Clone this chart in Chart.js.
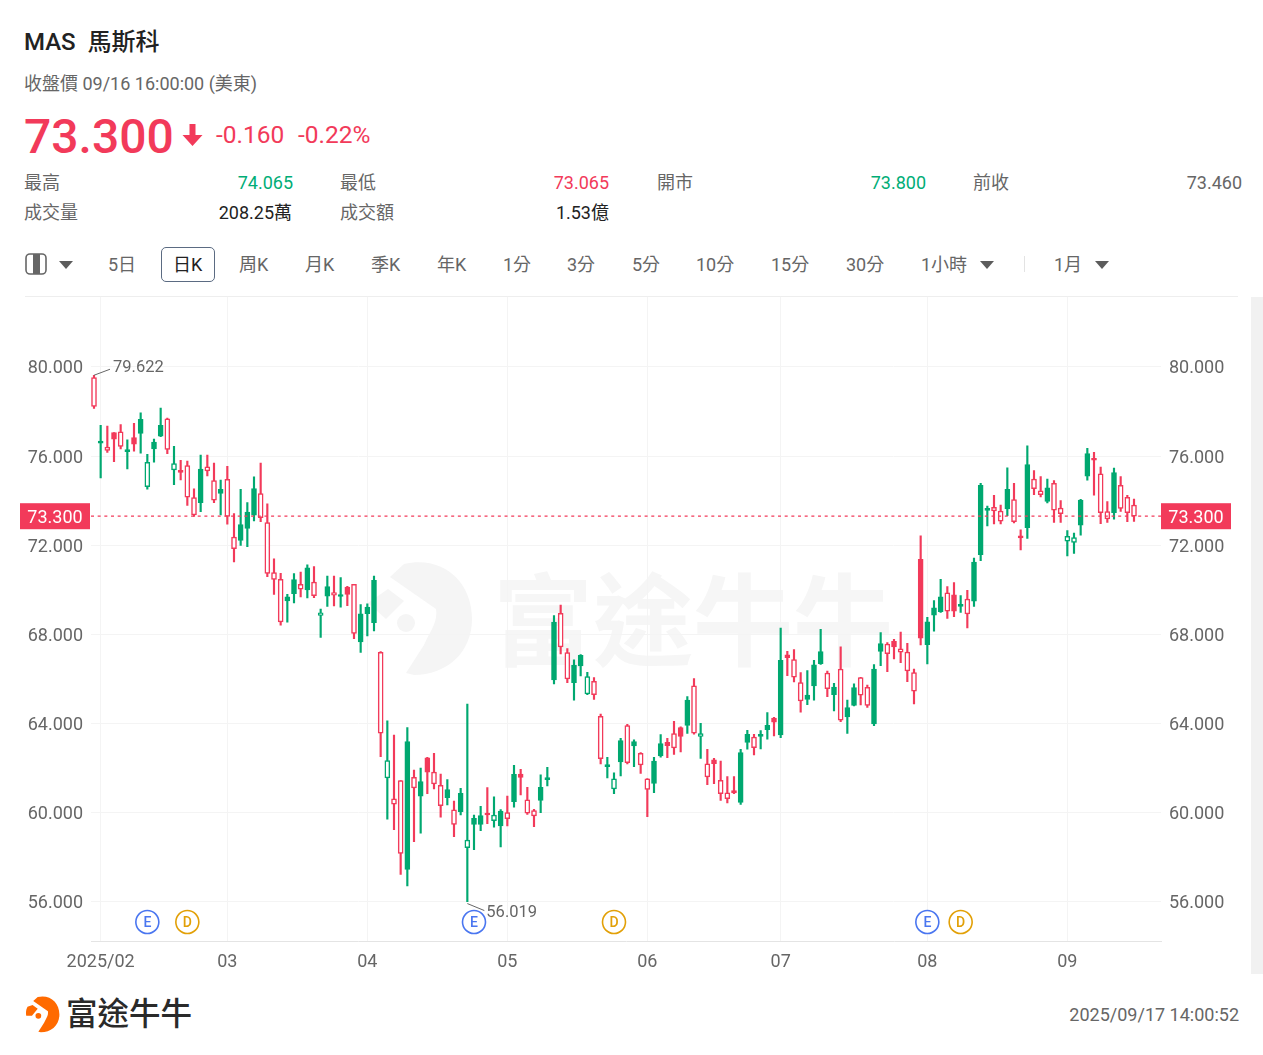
<!DOCTYPE html>
<html lang="zh-Hant">
<head>
<meta charset="utf-8">
<title>MAS 馬斯科</title>
<script src="https://cdn.jsdelivr.net/npm/chart.js@4"></script>
<style>
  html, body { margin: 0; padding: 0; background: #fff; }
  body { width: 1263px; height: 1055px; position: relative; overflow: hidden;
         font-family: Roboto, "Noto Sans CJK TC", sans-serif; color: #666; font-size: 18px; }
  .t { position: absolute; white-space: nowrap; line-height: 24px; }
  .r { text-align: right; }
  .red { color: #f23a5a; }
  .green { color: #00ad76; }
  .dark { color: #222; }
  .tab { top: 253px; color: #666; }
  .tri { position: absolute; width: 0; height: 0; border-left: 7px solid transparent;
         border-right: 7px solid transparent; border-top: 8px solid #5c5c5c; }
  #chart { position: absolute; left: 0; top: 278px; z-index: 2; }
  .mark { position: absolute; z-index: 1; }
</style>
</head>
<body>
<div class="t dark" style="left:24px;top:30px;font-size:24px;font-weight:500">MAS&nbsp; 馬斯科</div>
<div class="t" style="left:24px;top:72px">收盤價 09/16 16:00:00 (美東)</div>
<div class="t red" style="left:24px;top:113px;font-size:48px;line-height:48px;font-weight:500">73.300</div>
<svg class="mark" style="left:182px;top:123px" width="21" height="24" viewBox="0 0 21 24"><path d="M7.500 1h6v11h7L10.500 23 .500 12h7z" fill="#f23a5a"/></svg>
<div class="t red" style="left:216px;top:123px;font-size:24.500px">-0.160</div>
<div class="t red" style="left:298px;top:123px;font-size:24.500px">-0.22%</div>

<div class="t" style="left:24px;top:171px">最高</div>
<div class="t r green" style="right:970px;top:171px">74.065</div>
<div class="t" style="left:340px;top:171px">最低</div>
<div class="t r red" style="right:654px;top:171px">73.065</div>
<div class="t" style="left:657px;top:171px">開市</div>
<div class="t r green" style="right:337px;top:171px">73.800</div>
<div class="t" style="left:973px;top:171px">前收</div>
<div class="t r" style="right:21px;top:171px">73.460</div>
<div class="t" style="left:24px;top:201px">成交量</div>
<div class="t r dark" style="right:971px;top:201px">208.25萬</div>
<div class="t" style="left:340px;top:201px">成交額</div>
<div class="t r dark" style="right:654px;top:201px">1.53億</div>

<svg class="mark" style="left:25px;top:253px" width="23" height="23" viewBox="0 0 23 23"><rect x="1" y="1" width="20" height="20" rx="4" fill="#fff" stroke="#666" stroke-width="1.600"/><rect x="8" y="1" width="7" height="20" fill="#666"/></svg>
<div class="tri" style="left:59px;top:261px"></div>
<div class="t tab" style="left:108px">5日</div>
<div class="mark" style="left:161px;top:247px;width:52px;height:33px;border:1.500px solid #5b6b82;border-radius:5px"></div>
<div class="t dark" style="left:173px;top:253px">日K</div>
<div class="t tab" style="left:239px">周K</div>
<div class="t tab" style="left:305px">月K</div>
<div class="t tab" style="left:371px">季K</div>
<div class="t tab" style="left:437px">年K</div>
<div class="t tab" style="left:503px">1分</div>
<div class="t tab" style="left:567px">3分</div>
<div class="t tab" style="left:632px">5分</div>
<div class="t tab" style="left:696px">10分</div>
<div class="t tab" style="left:771px">15分</div>
<div class="t tab" style="left:846px">30分</div>
<div class="t tab" style="left:921px">1小時</div>
<div class="tri" style="left:980px;top:261px"></div>
<div class="mark" style="left:1024px;top:256px;width:1px;height:16px;background:#e3e3e3"></div>
<div class="t tab" style="left:1054px">1月</div>
<div class="tri" style="left:1095px;top:261px"></div>

<div class="mark" style="left:25px;top:296px;width:1213px;height:1px;background:#eee"></div>
<div class="mark" style="left:1251px;top:297px;width:12px;height:677px;background:#f1f1f1"></div>

<!-- faint watermark behind the candles -->
<svg class="mark" style="left:364px;top:561px" width="110" height="116" viewBox="0 0 110 116"><path d="M40 3 C78 -6 108 20 108 58 C108 92 82 114 50 114 L42 112 L60 84 C66 70 74 62 72 48 L26 16 Z M4 42 L24 28 L40 40 L22 58 Z" fill="#f5f5f5"/><circle cx="42" cy="62" r="9" fill="#f5f5f5"/></svg>
<div class="t" style="left:493px;top:569px;font-size:100px;line-height:110px;color:#f6f6f6;font-weight:700">富途牛牛</div>

<canvas id="chart" width="1263" height="709"></canvas>

<svg class="mark" style="left:24px;top:996px" width="37" height="37" viewBox="0 0 110 116"><path d="M40 3 C78 -6 108 20 108 58 C108 92 82 114 50 114 L42 112 L60 84 C66 70 74 62 72 48 L26 16 Z M4 62 C2 50 4 42 8 34 L24 28 L40 40 L22 62 Z" fill="#ff6a00"/><circle cx="42" cy="62" r="9" fill="#ff6a00"/></svg>
<div class="t" style="left:66px;top:997px;font-size:31.500px;line-height:36px;color:#2a2a2a;font-weight:500">富途牛牛</div>
<div class="t r" style="right:24px;top:1003px">2025/09/17 14:00:52</div>

<script>
// Daily candles, 2025/01/31 to 2025/09/16
const opens = [
  79.52,76.58,76.40,76.76,77.08,76.20,76.53,77.01,75.72,76.32,
  76.89,77.67,75.66,75.26,75.57,74.14,73.91,75.51,74.90,74.32,
  74.95,72.36,72.22,72.75,73.35,74.32,73.02,70.77,70.47,69.50,
  69.83,70.24,69.99,70.35,68.97,69.71,69.88,69.70,69.79,70.25,
  67.66,68.93,68.53,67.20,62.34,60.63,61.44,57.46,61.59,60.75,
  61.82,61.82,61.23,60.68,60.13,60.05,58.78,59.48,59.48,59.90,
  59.90,59.41,60.01,60.50,61.59,60.58,60.10,60.56,61.49,65.96,
  68.95,67.18,65.84,66.59,66.11,65.90,64.33,62.07,61.52,62.28,
  63.91,63.00,62.67,61.52,61.32,62.55,63.01,63.55,63.43,63.92,
  65.69,63.55,62.19,62.20,61.46,60.89,60.89,60.47,63.15,63.40,
  63.43,63.73,64.06,63.49,66.96,66.87,65.84,65.08,65.69,66.69,
  66.26,65.30,66.44,64.30,64.82,66.06,65.63,63.98,67.24,67.57,
  67.44,67.35,67.21,66.29,67.83,67.54,68.86,69.02,69.86,69.04,
  69.26,69.58,69.49,71.57,73.56,73.70,73.53,73.63,74.05,72.33,
  72.79,74.96,74.44,73.96,74.77,73.66,72.40,72.34,72.90,75.10,
  75.81,75.20,73.51,73.46,74.69,74.15,73.80
];
const closes = [
  78.22,76.65,76.25,77.05,76.43,76.26,76.83,77.64,74.63,76.62,
  77.38,76.29,75.38,75.36,74.15,73.36,75.41,75.33,74.02,74.51,
  73.29,71.84,72.93,73.48,74.54,73.24,70.73,70.47,68.56,69.68,
  70.46,70.03,70.98,69.74,68.85,70.15,69.76,69.77,70.12,68.04,
  68.92,69.22,70.43,63.57,61.56,60.39,58.18,63.19,61.11,61.40,
  62.47,61.29,60.32,61.04,59.48,60.87,58.44,59.75,59.87,59.99,
  59.65,60.08,59.74,61.73,61.74,59.98,59.86,61.14,61.55,68.55,
  67.44,66.00,66.62,67.06,65.33,65.30,62.43,62.13,61.07,63.24,
  62.25,63.19,62.15,61.05,62.32,63.10,63.16,62.91,63.82,65.05,
  63.57,63.42,61.61,62.37,60.86,60.63,61.00,62.70,63.52,62.92,
  63.48,63.92,64.25,66.84,67.08,66.08,65.02,65.28,66.63,67.23,
  65.57,65.64,64.15,64.72,65.61,65.27,64.81,66.45,67.59,67.14,
  67.69,67.20,66.36,65.45,71.37,68.56,69.19,69.68,69.04,69.77,
  69.34,68.92,71.24,74.68,73.62,73.54,73.08,74.51,73.05,72.40,
  75.62,74.53,74.27,74.57,73.57,73.41,72.18,72.13,74.02,76.11,
  75.90,73.46,73.18,75.26,73.65,73.46,73.30
];
const highs = [
  79.62,77.38,77.34,77.05,77.41,76.73,77.47,77.94,76.08,76.76,
  78.15,77.70,76.43,75.81,75.77,74.53,76.04,76.04,75.68,74.92,
  75.54,73.42,74.51,73.91,75.07,75.68,73.85,71.39,70.74,69.80,
  70.73,70.79,71.12,71.04,69.13,70.61,70.61,70.55,70.16,70.25,
  69.34,69.37,70.61,67.23,64.12,63.48,61.44,63.82,61.91,62.00,
  62.49,62.67,61.74,61.49,60.53,61.10,64.87,59.90,60.29,61.13,
  60.72,60.14,60.75,62.13,61.95,61.14,60.16,61.70,62.04,68.84,
  69.32,67.36,66.86,67.10,66.30,66.06,64.43,62.49,61.79,63.34,
  63.97,63.27,62.70,61.53,62.49,63.51,63.34,64.10,63.85,65.21,
  66.02,64.01,62.85,62.44,62.32,61.62,61.62,62.85,63.70,63.52,
  63.69,64.49,64.28,68.28,67.24,67.32,66.29,66.38,66.84,68.23,
  66.35,65.81,67.44,65.05,65.78,66.08,65.73,66.65,68.08,67.63,
  67.78,68.10,67.60,66.44,72.42,68.77,69.52,70.47,70.15,70.32,
  69.74,69.98,71.42,74.78,73.75,74.24,73.80,75.47,74.77,72.69,
  76.46,75.35,75.08,74.96,74.90,74.00,72.66,72.54,74.06,76.34,
  76.16,75.50,73.96,75.46,75.08,74.24,74.065
];
const lows = [
  78.13,75.02,76.16,75.75,76.32,75.42,76.22,76.13,74.51,75.72,
  76.87,76.10,74.72,74.93,73.78,73.29,73.50,75.11,73.91,73.36,
  72.94,71.25,71.99,71.93,73.09,73.06,70.59,69.79,68.41,68.55,
  69.41,69.68,69.64,69.65,67.86,69.25,69.28,69.22,69.29,67.81,
  67.19,67.93,68.16,62.52,59.71,59.24,57.24,56.72,58.71,59.09,
  60.86,61.07,59.80,60.35,58.93,59.90,56.019,58.35,59.20,59.51,
  59.36,58.47,59.41,60.25,60.80,59.93,59.38,60.01,61.20,65.78,
  67.12,65.84,65.05,66.14,65.30,65.08,62.19,61.56,60.86,61.65,
  62.19,62.07,61.77,59.83,60.90,62.49,62.47,62.62,62.73,63.56,
  63.52,62.44,61.26,61.31,60.55,60.44,60.86,60.38,62.85,62.59,
  62.86,63.30,63.45,63.37,66.15,65.87,64.51,64.85,65.05,66.65,
  65.21,64.57,64.09,63.56,64.79,64.84,64.73,63.91,66.60,66.33,
  66.90,66.73,65.88,64.88,67.53,66.68,68.14,68.98,68.72,68.80,
  68.98,68.29,69.25,71.31,72.87,72.96,72.96,73.33,73.00,71.79,
  72.30,74.27,74.17,73.90,73.02,73.02,71.52,71.63,72.45,74.92,
  74.24,72.97,73.02,73.17,73.52,73.05,73.065
];
// Day change sign: 1 rose, -1 fell
const dayDirs = [
  -1,1,-1,-1,-1,1,-1,1,1,1,
  1,-1,1,-1,-1,-1,1,-1,-1,1,
  -1,-1,1,1,1,-1,-1,-1,-1,1,
  1,-1,1,-1,1,1,-1,1,-1,-1,
  1,1,1,-1,1,-1,-1,1,-1,1,
  -1,-1,-1,1,-1,1,1,1,1,-1,
  1,1,-1,1,-1,-1,-1,1,1,1,
  -1,-1,1,1,1,-1,-1,1,1,1,
  -1,1,-1,-1,1,1,-1,-1,-1,1,
  -1,1,-1,-1,-1,-1,-1,1,1,-1,
  1,1,-1,1,-1,-1,-1,1,1,1,
  -1,1,-1,1,1,-1,-1,1,1,-1,
  -1,-1,-1,-1,-1,1,1,1,-1,-1,
  1,-1,1,1,1,-1,-1,1,-1,-1,
  1,-1,-1,1,-1,-1,1,1,1,1,
  -1,-1,-1,1,-1,-1,-1
];

// Axis labels
const monthLabels = ["2025/02", "03", "04", "05", "06", "07", "08", "09"];
const monthStarts = [1, 20, 41, 62, 83, 103, 125, 146];
const priceTicks = [56, 60, 64, 68, 72, 76, 80];

// Annotations
const lastPrice = 73.3;
const highMark = { day: 0, price: 79.622 };
const lowMark = { day: 56, price: 56.019 };
const earningDays = [8, 57, 125];
const dividendDays = [14, 78, 130];

const RED = "#f23a5a";
const GREEN = "#00a870";
const dayColor = i => (dayDirs[i] > 0 ? GREEN : RED);

// Leader lines, price line, E/D badges
const overlayPlugin = {
  id: "overlay",
  afterDatasetsDraw(chart) {
    const { ctx, scales, chartArea } = chart;
    const xs = scales.x;
    const ys = scales.y;

    // Current price line
    const py = ys.getPixelForValue(lastPrice);
    ctx.save();
    ctx.strokeStyle = RED;
    ctx.lineWidth = 1.3;
    ctx.setLineDash([3, 3.67]);
    ctx.beginPath();
    ctx.moveTo(chartArea.left, py);
    ctx.lineTo(chartArea.right, py);
    ctx.stroke();
    ctx.setLineDash([]);

    // Price tags on both sides
    ctx.font = "18px Roboto";
    ctx.textBaseline = "middle";
    ctx.textAlign = "center";
    [[20, chartArea.left - 1], [chartArea.right, chartArea.right + 70]].forEach(([a, b]) => {
      ctx.fillStyle = RED;
      ctx.fillRect(a, py - 13, b - a, 26);
      ctx.fillStyle = "#fff";
      ctx.fillText(lastPrice.toFixed(3), (a + b) / 2, py + 2);
    });

    // High and low labels
    ctx.font = "16.500px Roboto";
    ctx.textAlign = "left";
    ctx.strokeStyle = "#666";
    ctx.lineWidth = 1;
    const hx = xs.getPixelForValue(highMark.day);
    const hy = ys.getPixelForValue(highMark.price);
    ctx.beginPath();
    ctx.moveTo(hx, hy);
    ctx.lineTo(hx + 16, hy - 6);
    ctx.stroke();
    ctx.fillStyle = "#666";
    ctx.fillText(highMark.price.toFixed(3), hx + 19, hy - 7);
    const lx = xs.getPixelForValue(lowMark.day);
    const ly = ys.getPixelForValue(lowMark.price);
    ctx.beginPath();
    ctx.moveTo(lx, ly + 2);
    ctx.lineTo(lx + 17, ly + 9);
    ctx.stroke();
    ctx.fillText(lowMark.price.toFixed(3), lx + 19, ly + 11);

    // Earnings and dividend badges
    const badge = (day, letter, color) => {
      const bx = xs.getPixelForValue(day);
      const by = chartArea.bottom - 19;
      ctx.beginPath();
      ctx.arc(bx, by, 11.5, 0, Math.PI * 2);
      ctx.fillStyle = "#fff";
      ctx.fill();
      ctx.strokeStyle = color;
      ctx.lineWidth = 1.6;
      ctx.stroke();
      ctx.fillStyle = color;
      ctx.font = "500 14px Roboto";
      ctx.textAlign = "center";
      ctx.fillText(letter, bx, by + 1);
    };
    earningDays.forEach(d => badge(d, "E", "#4a76f0"));
    dividendDays.forEach(d => badge(d, "D", "#e2a007"));
    ctx.restore();
  }
};

const tickFont = { family: "Roboto", size: 18 };

new Chart(document.getElementById("chart"), {
  type: "bar",
  data: {
    datasets: [
      {
        label: "body",
        order: 1,
        grouped: false,
        barThickness: 5,
        minBarLength: 2,
        borderWidth: 1.5,
        borderSkipped: false,
        data: opens.map((o, i) => ({ x: i, y: [o, closes[i]] })),
        borderColor: c => dayColor(c.dataIndex),
        backgroundColor: c =>
          closes[c.dataIndex] > opens[c.dataIndex] ? dayColor(c.dataIndex) : "#fff"
      },
      {
        label: "wick",
        order: 2,
        grouped: false,
        barThickness: 1.5,
        borderWidth: 0,
        data: highs.map((h, i) => ({ x: i, y: [lows[i], h] })),
        backgroundColor: c => dayColor(c.dataIndex)
      }
    ]
  },
  options: {
    responsive: false,
    animation: false,
    devicePixelRatio: 1,
    layout: { padding: 0, autoPadding: false },
    plugins: { legend: { display: false }, tooltip: { enabled: false } },
    scales: {
      x: {
        type: "linear",
        offset: false,
        min: -0.45,
        max: 160.05,
        grid: { color: "#f4f4f4", drawTicks: false, offset: false },
        border: { color: "#e4e4e4" },
        afterBuildTicks: s => { s.ticks = monthStarts.map(v => ({ value: v })); },
        afterFit: s => { s.height = 46; },
        ticks: {
          autoSkip: false,
          maxRotation: 0,
          padding: 11,
          color: "#666",
          font: tickFont,
          callback: v => monthLabels[monthStarts.indexOf(v)]
        }
      },
      y: {
        min: 54.25,
        max: 83.14,
        position: "left",
        grid: { color: "#f4f4f4", drawTicks: false },
        border: { display: false },
        afterBuildTicks: s => { s.ticks = priceTicks.map(v => ({ value: v })); },
        afterFit: s => { s.width = 91; },
        ticks: { padding: 8, labelOffset: 2, color: "#666", font: tickFont, callback: v => v.toFixed(3) }
      },
      y2: {
        min: 54.25,
        max: 83.14,
        position: "right",
        grid: { display: false },
        border: { display: false },
        afterBuildTicks: s => { s.ticks = priceTicks.map(v => ({ value: v })); },
        afterFit: s => { s.width = 102; },
        ticks: { padding: 0, labelOffset: 2, color: "#666", font: tickFont, callback: v => v.toFixed(3) }
      }
    }
  },
  plugins: [overlayPlugin]
});
</script>
</body>
</html>
